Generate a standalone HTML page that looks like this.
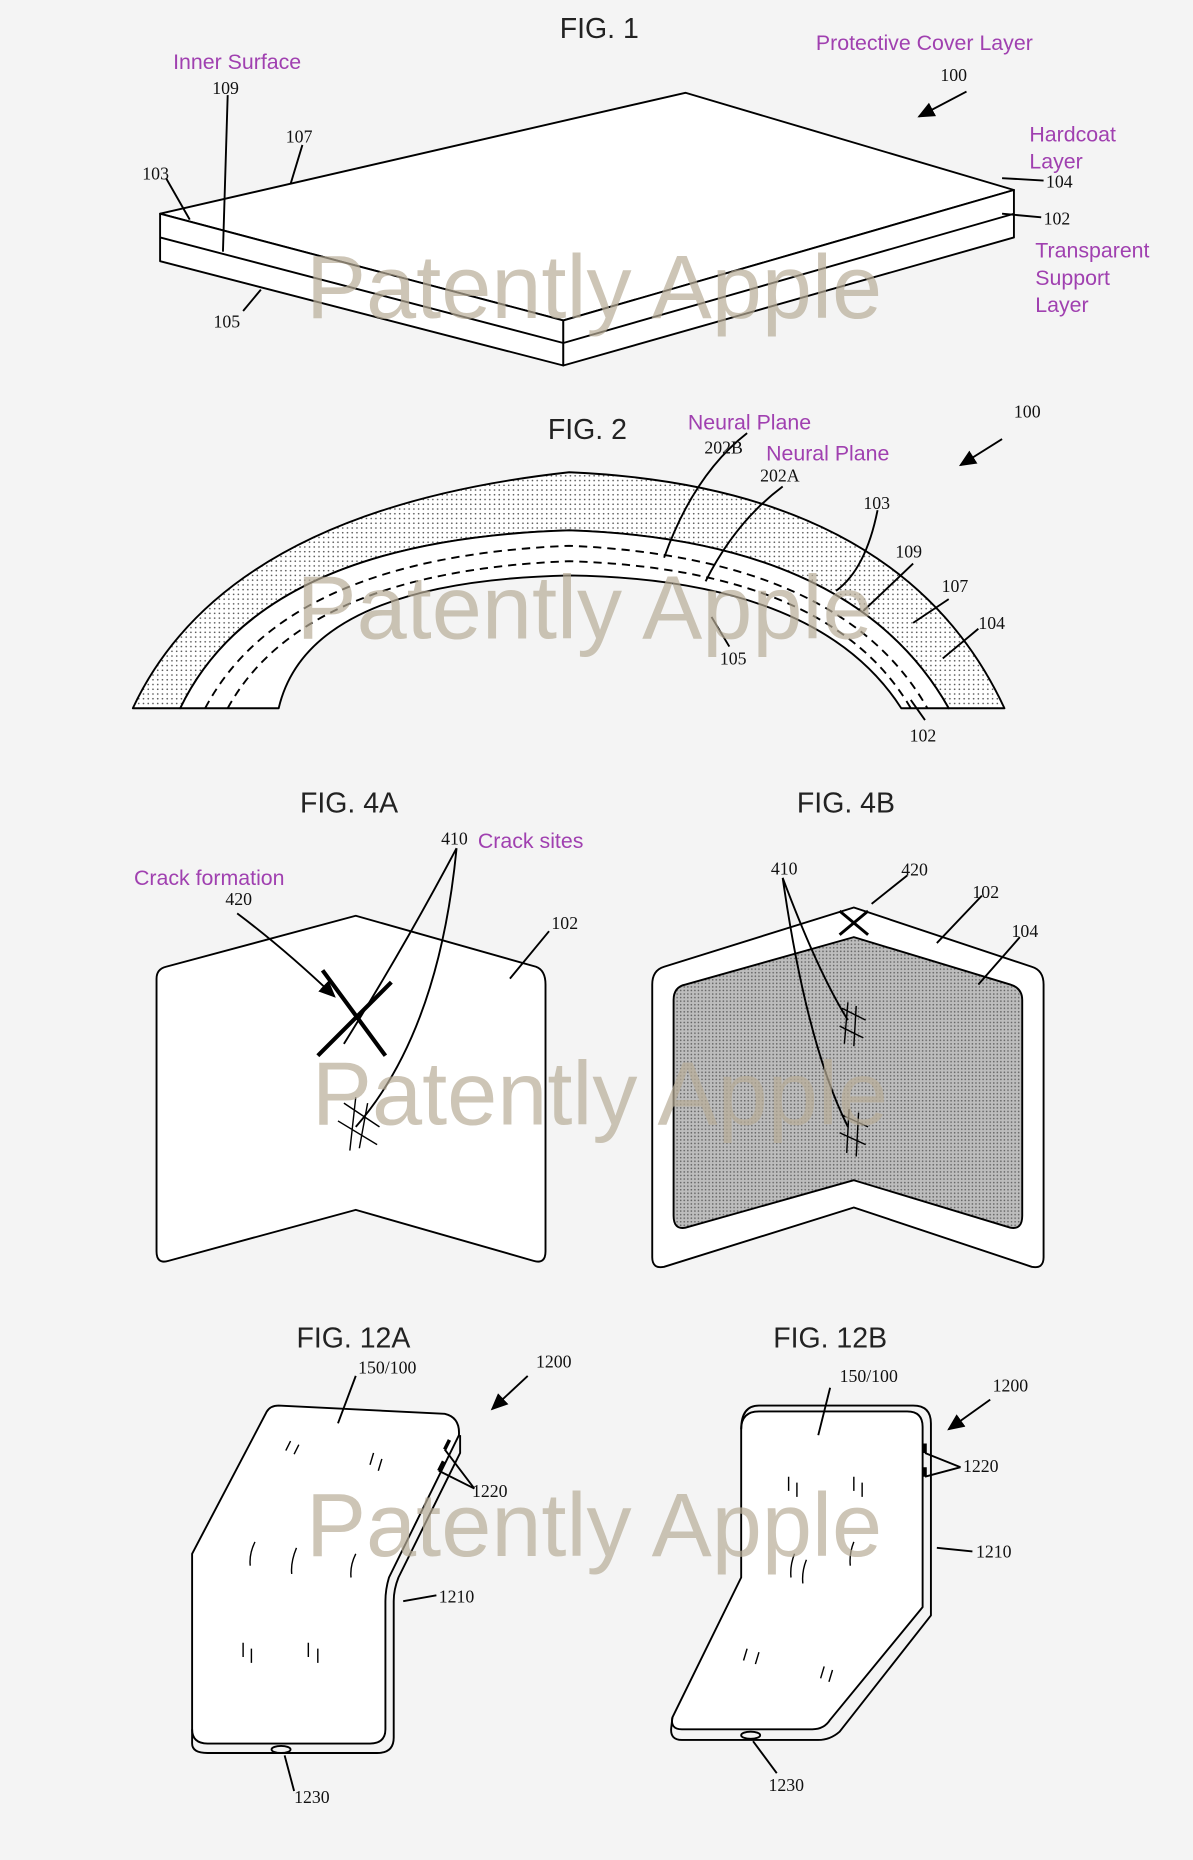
<!DOCTYPE html>
<html><head><meta charset="utf-8"><style>
html,body{margin:0;padding:0;background:#f4f4f4;}
svg{display:block}
.t{font-family:"Liberation Sans",sans-serif;font-size:24px;fill:#222}
.p{font-family:"Liberation Sans",sans-serif;font-size:18px;fill:#a040b0}
.n{font-family:"Liberation Serif",serif;font-size:15px;fill:#111}
.w{font-family:"Liberation Sans",sans-serif;font-size:76px;fill:#b8ad98;opacity:.7}
</style></head><body>
<svg width="1193" height="1860" viewBox="0 0 1006 1568" xmlns="http://www.w3.org/2000/svg">
<defs>
<pattern id="dots" width="4" height="4" patternUnits="userSpaceOnUse"><rect width="4" height="4" fill="#fff"/><circle cx="1" cy="1" r="0.7" fill="#555"/></pattern>
<pattern id="dg" width="3" height="3" patternUnits="userSpaceOnUse"><rect width="3" height="3" fill="#bdbdbd"/><circle cx="1" cy="1" r="0.7" fill="#666"/></pattern>
<marker id="ar" markerWidth="10" markerHeight="10" refX="8" refY="5" orient="auto"><path d="M0,1 L9,5 L0,9 Z" fill="#000"/></marker>
</defs>
<rect width="1006" height="1568" fill="#f4f4f4"/>
<g fill="none" stroke="#000" stroke-width="1.6" stroke-linejoin="round">
<!-- FIG 1 -->
<polygon points="135,180 578,78 855,160 475,270" fill="#fff"/>
<polygon points="135,180 475,270 475,308 135,220" fill="#fff"/>
<polygon points="475,270 855,160 855,200 475,308" fill="#fff"/>
<line x1="135" y1="200" x2="475" y2="289"/><line x1="475" y1="289" x2="855" y2="180"/>
<path d="M192,80 L188,212 M255,122 L245,155 M140,150 L160,185 M845,150 L880,152 M845,180 L878,183 M220,244 L205,262"/>
<path d="M815,77 L775,98" marker-end="url(#ar)"/>
<!-- FIG 2 -->
<path d="M112,597 Q190,430 480,398 Q760,410 847,597 L800,597 Q720,455 480,447 Q220,455 152,597 Z" fill="url(#dots)"/>
<path d="M152,597 Q220,455 480,447 Q720,455 800,597 L760,597 Q690,488 480,485 Q260,490 235,597 Z" fill="#fff"/>
<path d="M173,597 Q240,470 480,460 Q710,470 782,597" stroke-dasharray="7,5"/>
<path d="M192,597 Q255,482 480,473 Q700,480 768,597" stroke-dasharray="7,5"/>
<path d="M845,370 L810,392" marker-end="url(#ar)"/>
<path d="M630,365 Q585,400 560,470 M660,410 Q620,440 595,490 M740,430 Q730,480 705,498 M770,475 L728,515 M800,505 L770,525 M825,530 L795,555 M615,545 L600,520 M780,607 L768,590"/>
<!-- FIG 4A -->
<path d="M140,815 L300,772 L452,815 Q460,818 460,830 L460,1055 Q460,1066 450,1063 L300,1020 L142,1063 Q132,1066 132,1055 L132,825 Q132,817 140,815 Z" fill="#fff"/>
<path d="M200,770 Q240,800 282,840" marker-end="url(#ar)"/>
<path d="M272,818 L325,890 M330,828 L268,890" stroke-width="3.5"/>
<path d="M385,715 Q340,800 290,880 M385,715 Q370,870 300,950 M463,785 L430,825"/>
<path d="M290,930 L320,950 M285,945 L318,965 M300,925 L295,970 M310,930 L303,968" stroke-width="1.2"/>
<!-- FIG 4B -->
<path d="M560,815 L720,765 L870,815 Q880,818 880,830 L880,1060 Q880,1070 870,1068 L720,1018 L560,1068 Q550,1070 550,1060 L550,830 Q550,818 560,815 Z" fill="#fff"/>
<path d="M578,830 L720,790 L852,830 Q862,833 862,843 L862,1025 Q862,1037 852,1035 L720,995 L578,1035 Q568,1037 568,1025 L568,843 Q568,832 578,830 Z" fill="url(#dg)"/>
<path d="M660,740 Q690,820 715,860 M660,740 Q680,880 715,950 M765,738 L735,762 M828,755 L790,795 M860,790 L825,830"/>
<path d="M710,850 L730,860 M708,865 L728,875 M715,845 L712,880 M722,848 L720,882 M710,940 L732,950 M708,955 L730,965 M716,935 L714,972 M724,938 L722,975" stroke-width="1.2"/>
<path d="M708,768 L732,788 M732,768 L708,788" stroke-width="2.5"/>
<!-- FIG 12A -->
<path d="M235,1185 L375,1192 Q388,1195 387,1210 L328,1330 Q325,1340 325,1350 L325,1458 Q325,1470 312,1470 L175,1470 Q162,1470 162,1458 L162,1310 L225,1190 Q228,1185 235,1185 Z" fill="#fff"/>
<path d="M162,1458 L162,1470 Q162,1478 175,1478 L318,1478 Q332,1478 332,1465 L332,1350 Q332,1340 336,1330 L388,1225 L388,1210"/>
<ellipse cx="237" cy="1475" rx="8" ry="3"/>
<path d="M445,1160 L415,1188" marker-end="url(#ar)"/>
<path d="M300,1160 L285,1200 M400,1255 L375,1222 M400,1255 L370,1240 M368,1345 L340,1350 M248,1510 L240,1480"/>
<path d="M375,1222 l4,-8 M370,1240 l4,-8" stroke-width="3"/>
<path d="M245,1215 l-4,8 M252,1218 l-4,8 M315,1225 l-3,10 M322,1230 l-3,10 M215,1300 q-5,10 -4,20 M250,1305 q-5,12 -4,22 M300,1310 q-5,10 -4,20 M205,1385 l0,12 M212,1390 l0,12 M260,1385 l0,12 M268,1390 l0,12" stroke-width="1.2"/>
<!-- FIG 12B -->
<path d="M640,1190 L765,1190 Q778,1190 778,1203 L778,1355 L700,1450 Q695,1458 685,1458 L575,1458 Q565,1458 567,1448 L625,1330 L625,1205 Q625,1190 640,1190 Z" fill="#fff"/>
<path d="M625,1205 Q625,1185 640,1185 L770,1185 Q785,1185 785,1200 L785,1362 L708,1460 Q700,1467 690,1467 L575,1467 Q565,1467 566,1457 L567,1448"/>
<ellipse cx="633" cy="1463" rx="8" ry="3"/>
<path d="M835,1180 L800,1205" marker-end="url(#ar)"/>
<path d="M700,1170 L690,1210 M810,1237 L780,1225 M810,1237 L780,1245 M820,1308 L790,1305 M655,1495 L635,1468"/>
<path d="M780,1225 l0,-8 M780,1245 l0,-8" stroke-width="3"/>
<path d="M665,1245 l0,12 M672,1250 l0,12 M720,1245 l0,12 M727,1250 l0,12 M670,1310 q-4,10 -3,20 M680,1315 q-4,10 -3,20 M720,1300 q-4,10 -3,20 M630,1390 l-3,10 M640,1393 l-3,10 M695,1405 l-3,10 M702,1408 l-3,10" stroke-width="1.2"/>
</g>
<!-- text -->
<text class="t" x="472" y="32">FIG. 1</text>
<text class="t" x="462" y="370">FIG. 2</text>
<text class="t" x="253" y="685">FIG. 4A</text>
<text class="t" x="672" y="685">FIG. 4B</text>
<text class="t" x="250" y="1136">FIG. 12A</text>
<text class="t" x="652" y="1136">FIG. 12B</text>
<text class="p" x="146" y="58">Inner Surface</text>
<text class="p" x="688" y="42">Protective Cover Layer</text>
<text class="p" x="868" y="119">Hardcoat</text><text class="p" x="868" y="142">Layer</text>
<text class="p" x="873" y="217">Transparent</text><text class="p" x="873" y="240">Support</text><text class="p" x="873" y="263">Layer</text>
<text class="p" x="580" y="362">Neural Plane</text><text class="p" x="646" y="388">Neural Plane</text>
<text class="p" x="113" y="746">Crack formation</text><text class="p" x="403" y="715">Crack sites</text>
<text class="n" x="179" y="79">109</text><text class="n" x="241" y="120">107</text><text class="n" x="120" y="151">103</text>
<text class="n" x="180" y="276">105</text><text class="n" x="793" y="68">100</text><text class="n" x="882" y="158">104</text><text class="n" x="880" y="189">102</text>
<text class="n" x="855" y="352">100</text><text class="n" x="594" y="382">202B</text><text class="n" x="641" y="406">202A</text>
<text class="n" x="728" y="429">103</text><text class="n" x="755" y="470">109</text><text class="n" x="794" y="499">107</text><text class="n" x="825" y="530">104</text>
<text class="n" x="607" y="560">105</text><text class="n" x="767" y="625">102</text>
<text class="n" x="190" y="763">420</text><text class="n" x="372" y="712">410</text><text class="n" x="465" y="783">102</text>
<text class="n" x="650" y="737">410</text><text class="n" x="760" y="738">420</text><text class="n" x="820" y="757">102</text><text class="n" x="853" y="790">104</text>
<text class="n" x="302" y="1158">150/100</text><text class="n" x="452" y="1153">1200</text><text class="n" x="398" y="1262">1220</text><text class="n" x="370" y="1351">1210</text><text class="n" x="248" y="1520">1230</text>
<text class="n" x="708" y="1165">150/100</text><text class="n" x="837" y="1173">1200</text><text class="n" x="812" y="1241">1220</text><text class="n" x="823" y="1313">1210</text><text class="n" x="648" y="1510">1230</text>
<text class="w" x="258" y="268">Patently Apple</text>
<text class="w" x="250" y="538">Patently Apple</text>
<text class="w" x="263" y="948">Patently Apple</text>
<text class="w" x="258" y="1312">Patently Apple</text>
</svg>
</body></html>
